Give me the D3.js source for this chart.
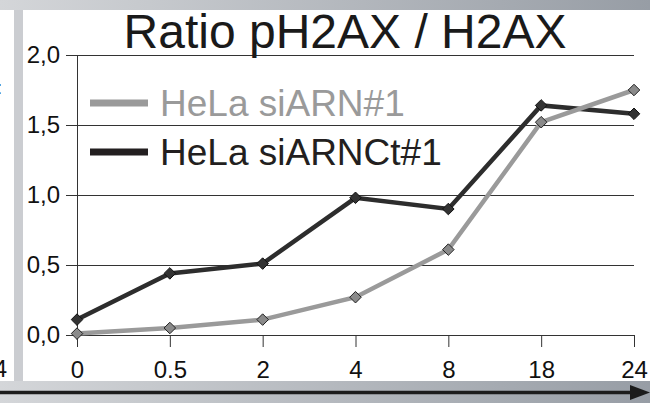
<!DOCTYPE html>
<html>
<head>
<meta charset="utf-8">
<script src="https://cdn.jsdelivr.net/npm/d3@7"></script>
<style>
  body { margin: 0; background: #fff; }
  text { font-family: "Liberation Sans", Arial, sans-serif; }
</style>
</head>
<body>
<div id="chart-container"></div>
<script>
// data
const categories = ["0", "0.5", "2", "4", "8", "18", "24"];
const siARN = [0.01, 0.05, 0.11, 0.27, 0.61, 1.52, 1.75];
const siARNCt = [0.11, 0.44, 0.51, 0.98, 0.9, 1.64, 1.58];
const yTicks = [0, 0.5, 1, 1.5, 2];
const yTickLabels = ["0,0", "0,5", "1,0", "1,5", "2,0"];
const seriesNames = ["HeLa siARN#1", "HeLa siARNCt#1"];
const title = "Ratio pH2AX / H2AX";

// define canvas
const w = 650;
const h = 403;

const svg = d3
  .select("#chart-container")
  .append("svg")
  .attr("width", w)
  .attr("height", h);

// slide background bands
const defs = svg.append("defs");
const grad = defs
  .append("linearGradient")
  .attr("id", "band")
  .attr("x1", "0%")
  .attr("x2", "100%");
grad.append("stop").attr("offset", "0%").attr("stop-color", "#d4d6d9");
grad.append("stop").attr("offset", "100%").attr("stop-color", "#979da5");

svg.append("rect").attr("x", 0).attr("y", 0).attr("width", w).attr("height", 10).attr("fill", "url(#band)");
svg.append("rect").attr("x", 0).attr("y", 381).attr("width", w).attr("height", 22).attr("fill", "url(#band)");
svg.append("rect").attr("x", 14).attr("y", 10).attr("width", 9).attr("height", 371).attr("fill", "#cbcdd1");

// arrow in the bottom band
svg.append("line")
  .attr("x1", 0).attr("x2", 636)
  .attr("y1", 392.5).attr("y2", 392.5)
  .attr("stroke", "#1c1c1c").attr("stroke-width", 3.5);
svg.append("path")
  .attr("d", "M630,385 L650,392.5 L630,400 Z")
  .attr("fill", "#1c1c1c");

// bits of the neighbouring slide
svg.append("text").attr("x", 7).attr("y", 377).attr("text-anchor", "end")
  .style("font-size", "24px").attr("fill", "#111").text("24");
svg.append("text").attr("x", -3).attr("y", 94)
  .style("font-size", "18px").attr("fill", "#111").text(":");

// scales
const xScale = d3.scalePoint().domain(categories).range([77, 634]).padding(0);
const yScale = d3.scaleLinear().domain([0, 2]).range([335, 55]);

// y axis with gridlines
const yAxis = d3
  .axisLeft(yScale)
  .tickValues(yTicks)
  .tickSizeInner(-(634 - 66))
  .tickSizeOuter(0)
  .tickPadding(6)
  .tickFormat((d, i) => yTickLabels[i]);

const gy = svg.append("g").attr("transform", "translate(66,0)").call(yAxis);
gy.select(".domain").remove();
gy.selectAll("line").attr("stroke", "#333").attr("stroke-width", 1);
gy.selectAll("text").style("font-size", "24px").attr("fill", "#111");

// vertical axis line
svg.append("line")
  .attr("x1", xScale(categories[0]) + 0.5).attr("x2", xScale(categories[0]) + 0.5)
  .attr("y1", yScale(2)).attr("y2", yScale(0))
  .attr("stroke", "#333");

// x axis
const xAxis = d3.axisBottom(xScale).tickSizeInner(12).tickSizeOuter(0).tickPadding(14);
const gx = svg.append("g").attr("transform", "translate(0," + yScale(0) + ")").call(xAxis);
gx.select(".domain").attr("stroke", "#333");
gx.selectAll("line").attr("stroke", "#333");
gx.selectAll("text").style("font-size", "24px").attr("fill", "#111");

// title
svg.append("text")
  .attr("x", 345).attr("y", 48)
  .attr("text-anchor", "middle")
  .style("font-size", "48px")
  .attr("fill", "#1a1a1a")
  .text(title);

// series
const series = [
  { name: seriesNames[1], values: siARNCt, color: "#2d2d2d", fill: "#333", stroke: "#111" },
  { name: seriesNames[0], values: siARN, color: "#9a9a9a", fill: "#8a8a8a", stroke: "#222" },
];

const line = d3
  .line()
  .x((d, i) => xScale(categories[i]))
  .y((d) => yScale(d));

const diamond = d3.symbol().type(d3.symbolDiamond2).size(85);

series.forEach((s) => {
  svg.append("path")
    .datum(s.values)
    .attr("d", line)
    .attr("fill", "none")
    .attr("stroke", s.color)
    .attr("stroke-width", 4.5);

  svg.selectAll(null)
    .data(s.values)
    .enter()
    .append("path")
    .attr("d", diamond)
    .attr("transform", (d, i) => "translate(" + xScale(categories[i]) + "," + yScale(d) + ")")
    .attr("fill", s.fill)
    .attr("stroke", s.stroke)
    .attr("stroke-width", 1);
});

// legend
const legend = [
  { name: seriesNames[0], color: "#9a9a9a", text: "#9a9a9a", y: 103 },
  { name: seriesNames[1], color: "#231f20", text: "#231f20", y: 152 },
];
legend.forEach((l) => {
  svg.append("line")
    .attr("x1", 90).attr("x2", 148)
    .attr("y1", l.y).attr("y2", l.y)
    .attr("stroke", l.color).attr("stroke-width", 7);
  svg.append("text")
    .attr("x", 160).attr("y", l.y + 13)
    .style("font-size", "37px")
    .attr("fill", l.text)
    .text(l.name);
});
</script>
</body>
</html>
